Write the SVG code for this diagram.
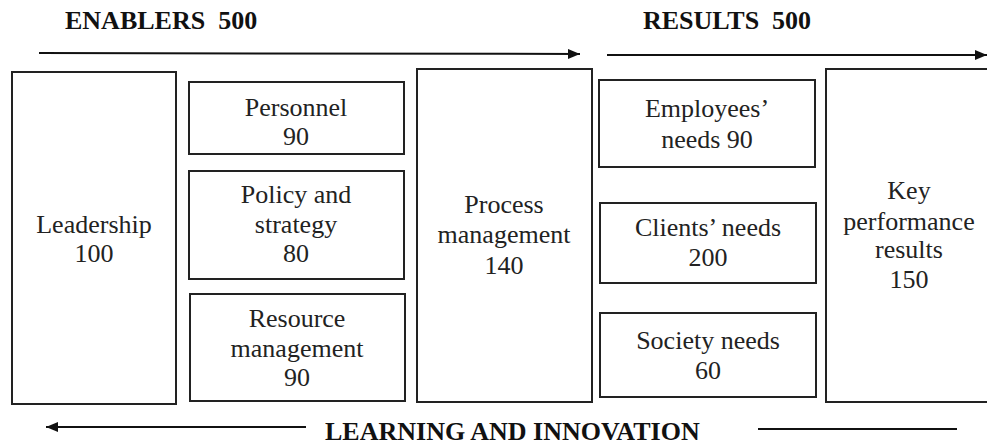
<svg xmlns="http://www.w3.org/2000/svg" width="987" height="445" viewBox="0 0 987 445">
<defs>
<marker id="ah" markerWidth="12" markerHeight="10" refX="12" refY="5" orient="auto" markerUnits="userSpaceOnUse">
<path d="M0,0 L12,5 L0,10 Z" fill="#111"/>
</marker>
<style>
.box{fill:#fff;stroke:#222;stroke-width:2}
.t{font-family:"Liberation Serif","Times New Roman",serif;font-size:26px;fill:#222;text-anchor:middle}
.h{font-family:"Liberation Serif","Times New Roman",serif;font-size:26px;font-weight:bold;fill:#111}
.ln{stroke:#111;stroke-width:2;fill:none}
</style>
</defs>
<rect width="987" height="445" fill="#fff"/>
<text class="h" x="65" y="29" xml:space="preserve">ENABLERS  500</text>
<text class="h" x="643" y="29" xml:space="preserve">RESULTS  500</text>
<text class="h" x="325" y="440">LEARNING AND INNOVATION</text>
<g id="connectors">
<line class="ln" x1="39" y1="53" x2="580" y2="54" marker-end="url(#ah)"/>
<line class="ln" x1="607" y1="55" x2="987" y2="55" marker-end="url(#ah)"/>
<line class="ln" x1="306" y1="427" x2="46" y2="427" marker-end="url(#ah)"/>
<line class="ln" x1="758" y1="429" x2="957" y2="429"/>
</g>
<g id="leadership">
<rect class="box" x="12" y="72" width="164" height="332"/>
<text class="t" x="94" y="233">Leadership</text>
<text class="t" x="94" y="262">100</text>
</g>
<g id="personnel">
<rect class="box" x="189" y="82" width="215" height="72"/>
<text class="t" x="296" y="116">Personnel</text>
<text class="t" x="296" y="145">90</text>
</g>
<g id="policy">
<rect class="box" x="189" y="171" width="215" height="108"/>
<text class="t" x="296" y="203">Policy and</text>
<text class="t" x="296" y="233">strategy</text>
<text class="t" x="296" y="262">80</text>
</g>
<g id="resource">
<rect class="box" x="190" y="294" width="215" height="107"/>
<text class="t" x="297" y="327">Resource</text>
<text class="t" x="297" y="357">management</text>
<text class="t" x="297" y="386">90</text>
</g>
<g id="process">
<rect class="box" x="417" y="69" width="175" height="333"/>
<text class="t" x="504" y="213">Process</text>
<text class="t" x="504" y="243">management</text>
<text class="t" x="504" y="274">140</text>
</g>
<g id="employees">
<rect class="box" x="599" y="80" width="216" height="87"/>
<text class="t" x="707" y="117">Employees’</text>
<text class="t" x="707" y="148">needs 90</text>
</g>
<g id="clients">
<rect class="box" x="600" y="203" width="216" height="80"/>
<text class="t" x="708" y="236">Clients’ needs</text>
<text class="t" x="708" y="266">200</text>
</g>
<g id="society">
<rect class="box" x="600" y="313" width="216" height="84"/>
<text class="t" x="708" y="349">Society needs</text>
<text class="t" x="708" y="379">60</text>
</g>
<g id="kpr">
<rect class="box" x="826" y="69" width="170" height="333"/>
<text class="t" x="909" y="199">Key</text>
<text class="t" x="909" y="230">performance</text>
<text class="t" x="909" y="258">results</text>
<text class="t" x="909" y="288">150</text>
</g>
</svg>
